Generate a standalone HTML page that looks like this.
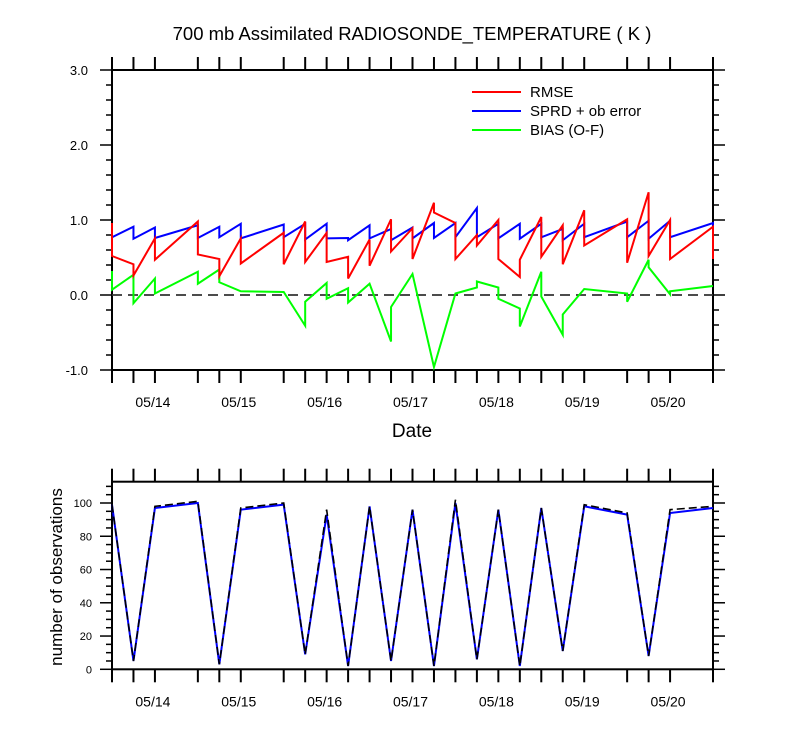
<!DOCTYPE html>
<html><head><meta charset="utf-8"><style>
body{margin:0;background:#fff;}
svg{display:block;font-family:"Liberation Sans",Arial,sans-serif;}
</style></head><body>
<svg id="chart" width="800" height="750" viewBox="0 0 800 750">
<text x="412" y="40" text-anchor="middle" font-size="18.5">700 mb Assimilated RADIOSONDE_TEMPERATURE ( K )</text>
<g id="topg"></g>
<g id="botg"></g>
<text x="412" y="437" text-anchor="middle" font-size="19">Date</text>
<text transform="translate(62,577) rotate(-90)" text-anchor="middle" font-size="17">number of observations</text>
<g>
<line x1="472" y1="92" x2="521" y2="92" stroke="#f00" stroke-width="2"/>
<text x="530" y="97" font-size="15">RMSE</text>
<line x1="472" y1="111" x2="521" y2="111" stroke="#00f" stroke-width="2"/>
<text x="530" y="116" font-size="15">SPRD + ob error</text>
<line x1="472" y1="130" x2="521" y2="130" stroke="#0f0" stroke-width="2"/>
<text x="530" y="135" font-size="15">BIAS (O-F)</text>
</g>
</svg>
<script>
// hours since 05/13 12Z
const times = [0,6,12,24,30,36,48,54,60,66,72,78,84,90,96,102,108,114,120,126,132,144,150,156,168];
const dayLabels = ["05/14","05/15","05/16","05/17","05/18","05/19","05/20"];
const dayHours = [12,36,60,84,108,132,156];
// each time: [arrive, depart]
const rmseIn  = [0.96,0.41,0.755,0.98,0.48,0.755,0.83,0.98,0.83,0.51,0.74,1.01,0.89,1.23,0.96,0.80,1.00,0.24,1.04,0.93,1.13,1.01,1.37,1.00,0.91];
const rmseOut = [0.52,0.26,0.47,0.54,0.25,0.42,0.41,0.44,0.44,0.22,0.39,0.58,0.48,1.10,0.48,0.66,0.48,0.47,0.51,0.41,0.66,0.43,0.52,0.48,0.48];
const sprdIn  = [0.91,0.91,0.90,0.93,0.91,0.95,0.94,0.95,0.95,0.76,0.93,0.88,0.90,0.96,0.96,1.16,0.95,0.95,0.95,0.88,0.95,0.98,0.99,0.99,0.96];
const sprdOut = [0.77,0.75,0.76,0.76,0.77,0.755,0.77,0.74,0.755,0.73,0.755,0.73,0.755,0.76,0.77,0.77,0.755,0.75,0.77,0.73,0.77,0.77,0.75,0.77,0.78];
const biasIn  = [0.32,0.27,0.22,0.31,0.34,0.05,0.04,-0.41,0.16,0.09,0.15,-0.62,0.28,-0.96,0.02,0.10,0.10,-0.18,0.31,-0.53,0.08,0.02,0.47,0.01,0.12];
const biasOut = [0.07,-0.11,0.02,0.15,0.17,0.05,0.04,-0.09,-0.05,-0.10,0.15,-0.16,0.28,-0.96,0.02,0.18,-0.05,-0.42,-0.02,-0.26,0.08,-0.09,0.37,0.05,0.12];
const obsUsed = [99,5,97,100,3,96,99,9,93,2,98,5,96,2,100,6,96,2,97,11,98,93,8,94,97];
const obsAll  = [99,5,98,101,3,97,100,9,96,2,98,5,96,2,102,6,96,2,97,11,99,94,8,96,98];
const topTicks = ["3.0","2.0","1.0","0.0","-1.0"];
const topTickVals = [3,2,1,0,-1];
const botTickVals = [0,20,40,60,80,100];

const NS="http://www.w3.org/2000/svg";
const L=112,R=713;
function xs(h){return L+(R-L)*h/168;}
function yT(v){return 295-75*v;}
function yB(n){return 669.3-1.663*n;}
function el(tag,attrs,parent){const e=document.createElementNS(NS,tag);for(const k in attrs)e.setAttribute(k,attrs[k]);parent.appendChild(e);return e;}
const topG=document.getElementById('topg'), botG=document.getElementById('botg');

function frame(g,y0,y1,name){
  const r=el('rect',{x:L,y:y0,width:R-L,height:y1-y0,fill:'none',stroke:'#000','stroke-width':2},g);
  
  
  times.forEach(h=>{
    const x=xs(h);
    const a=el('line',{x1:x,y1:y1,x2:x,y2:y1+13,stroke:'#000','stroke-width':2},g);
    
    
    const b=el('line',{x1:x,y1:y0,x2:x,y2:y0-13,stroke:'#000','stroke-width':2},g);
    
    
  });
  dayLabels.forEach((d,i)=>{
    const t=el('text',{x:xs(dayHours[i])-2,y:y1+37,'text-anchor':'middle','font-size':14},g);
    t.textContent=d;
    
    
  });
}
frame(topG,70,370,'top-plot');
frame(botG,481.7,669.3,'bottom-plot');

for(let k=0;k<=20;k++){
  const v=-1+k*0.2;
  const y=yT(v), major=k%5===0, len=major?12:6;
  const a=el('line',{x1:L,y1:y,x2:L-len,y2:y,stroke:'#000','stroke-width':1.5},topG);
  
  
  const b=el('line',{x1:R,y1:y,x2:R+len,y2:y,stroke:'#000','stroke-width':1.5},topG);
  
  
}
topTicks.forEach((s,i)=>{
  const t=el('text',{x:88,y:yT(topTickVals[i])+5,'text-anchor':'end','font-size':13},topG);
  t.textContent=s;
  
  
});
const z=el('line',{x1:L,y1:yT(0),x2:R,y2:yT(0),stroke:'#333','stroke-width':1.8,'stroke-dasharray':'10,6'},topG);



function series(inA,outA,color,name){
  let pts=[];
  times.forEach((h,i)=>{pts.push(xs(h)+','+yT(inA[i]));pts.push(xs(h)+','+yT(outA[i]));});
  const p=el('polyline',{points:pts.join(' '),fill:'none',stroke:color,'stroke-width':2},topG);
  
  
}
series(biasIn,biasOut,'#0f0','bias-line');
series(sprdIn,sprdOut,'#00f','sprd-line');
series(rmseIn,rmseOut,'#f00','rmse-line');

for(let n=0;n<=110;n+=5){
  const y=yB(n); if(y<481) break;
  const major=n%20===0, len=major?12:6;
  const a=el('line',{x1:L,y1:y,x2:L-len,y2:y,stroke:'#000','stroke-width':1.5},botG);
  
  
  const b=el('line',{x1:R,y1:y,x2:R+len,y2:y,stroke:'#000','stroke-width':1.5},botG);
  
  
}
botTickVals.forEach(n=>{
  const t=el('text',{x:92,y:yB(n)+4,'text-anchor':'end','font-size':11},botG);
  t.textContent=String(n);
  
  
});
const ptsU=times.map((h,i)=>xs(h)+','+yB(obsUsed[i])).join(' ');
const ptsA=times.map((h,i)=>xs(h)+','+yB(obsAll[i])).join(' ');
const pu=el('polyline',{points:ptsU,fill:'none',stroke:'#00f','stroke-width':2},botG);


const pa=el('polyline',{points:ptsA,fill:'none',stroke:'#000','stroke-width':1.6,'stroke-dasharray':'8,4'},botG);


</script>
</body></html>
